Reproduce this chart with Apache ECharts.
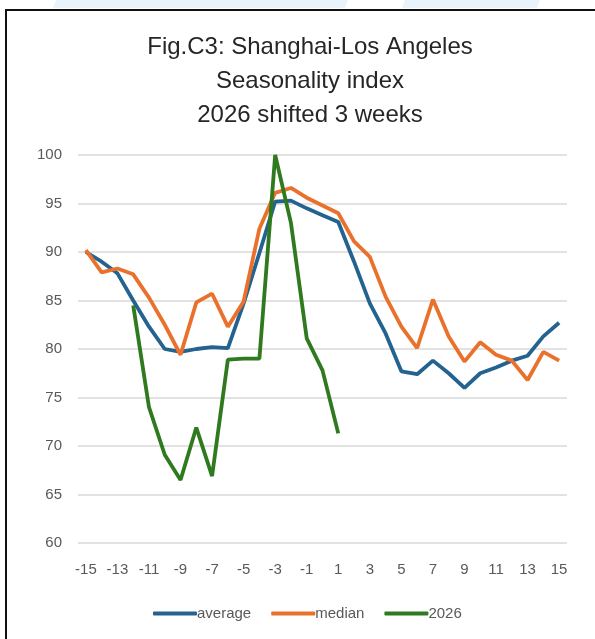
<!DOCTYPE html>
<html>
<head>
<meta charset="utf-8">
<script src="https://cdn.jsdelivr.net/npm/echarts@6/dist/echarts.min.js"></script>
<style>
  html, body { margin: 0; padding: 0; background: #fff; }
  #chart { width: 595px; height: 639px; }
</style>
</head>
<body>
<div id="chart"></div>
<script>
// weeks relative to the peak, -15 .. 15
var weeks = ['-15', '-14', '-13', '-12', '-11', '-10', '-9', '-8', '-7', '-6', '-5', '-4', '-3', '-2', '-1', '0',
  '1', '2', '3', '4', '5', '6', '7', '8', '9', '10', '11', '12', '13', '14', '15']

var average = [90.0, 89.0, 87.8, 85.0, 82.3, 80.0, 79.7, 80.0, 80.2, 80.1, 84.7, 89.9, 95.2, 95.3, 94.5, 93.8,
  93.1, 89.0, 84.7, 81.6, 77.7, 77.4, 78.8, 77.5, 76.0, 77.5, 78.1, 78.8, 79.3, 81.3, 82.7]

var median = [90.2, 87.9, 88.3, 87.7, 85.3, 82.5, 79.4, 84.8, 85.7, 82.3, 84.9, 92.4, 96.1, 96.6, 95.6, 94.8,
  94.0, 91.1, 89.5, 85.4, 82.3, 80.1, 85.1, 81.3, 78.7, 80.7, 79.4, 78.8, 76.8, 79.7, 78.8]

var y2026 = [null, null, null, 84.5, 74.0, 69.1, 66.5, 71.9, 66.9, 78.9, 79.0, 79.0, 100.0, 93.0, 81.1, 77.8,
  71.3, null, null, null, null, null, null, null, null, null, null, null, null, null, null]

var chart = echarts.init(document.getElementById('chart'))
var font = 'Liberation Sans, Arial, sans-serif'

var option = {
  animation: false,
  textStyle: { fontFamily: font },
  title: {
    text: 'Fig.C3: Shanghai-Los Angeles\nSeasonality index\n2026 shifted 3 weeks',
    left: 305,
    textAlign: 'center',
    top: 25,
    textStyle: {
      fontSize: 24,
      fontWeight: 'normal',
      color: '#262626',
      lineHeight: 34,
      fontFamily: font
    }
  },
  graphic: [
    { type: 'polygon', shape: { points: [[56, 0], [348, 0], [345, 8], [53, 8]] }, style: { fill: '#e8f3fb' }, silent: true },
    { type: 'polygon', shape: { points: [[405, 0], [540, 0], [537, 8], [402, 8]] }, style: { fill: '#e8f3fb' }, silent: true },
    { type: 'rect', shape: { x: 6, y: 10, width: 620, height: 660 }, style: { fill: 'none', stroke: '#111', lineWidth: 2 }, silent: true }
  ],
  legend: {
    left: 148,
    top: 601,
    icon: 'roundRect',
    itemWidth: 44,
    itemHeight: 4,
    itemGap: 20,
    textStyle: { fontSize: 15, color: '#595959', padding: [0, 0, 0, -5] },
    data: ['average', 'median', '2026']
  },
  grid: {
    left: 78,
    right: 28,
    top: 155,
    bottom: 96
  },
  xAxis: {
    type: 'category',
    data: weeks,
    boundaryGap: true,
    axisLine: { show: false },
    axisTick: { show: false },
    axisLabel: {
      interval: 1,
      margin: 19,
      fontSize: 15,
      color: '#595959'
    }
  },
  yAxis: {
    type: 'value',
    min: 60,
    max: 100,
    interval: 5,
    axisLine: { show: false },
    axisTick: { show: false },
    axisLabel: { margin: 16, fontSize: 15, color: '#595959' },
    splitLine: { lineStyle: { color: '#d9d9d9', width: 1.5 } }
  },
  series: [
    {
      name: 'average',
      type: 'line',
      data: average,
      symbol: 'none',
      lineStyle: { color: '#24628f', width: 3.8 },
      itemStyle: { color: '#24628f' }
    },
    {
      name: 'median',
      type: 'line',
      data: median,
      symbol: 'none',
      lineStyle: { color: '#e9712b', width: 3.8 },
      itemStyle: { color: '#e9712b' }
    },
    {
      name: '2026',
      type: 'line',
      data: y2026,
      symbol: 'none',
      lineStyle: { color: '#2f7a1f', width: 3.8 },
      itemStyle: { color: '#2f7a1f' }
    }
  ]
}
chart.setOption(option)
</script>
</body>
</html>
